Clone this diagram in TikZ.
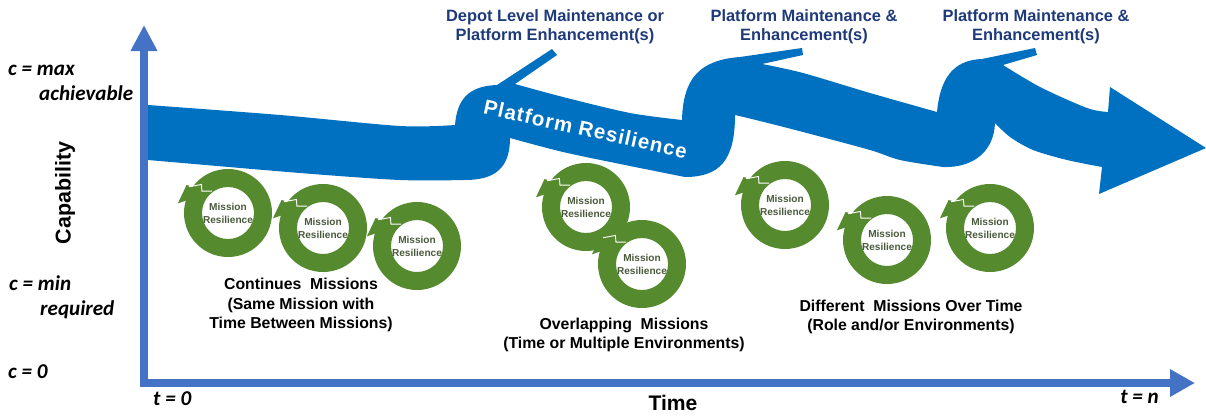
\documentclass[tikz,border=0pt]{standalone}
\usepackage{fontspec}
\setmainfont{Liberation Sans}
\newfontfamily\calfont{Carlito}
\usepackage{tikz}
\usetikzlibrary{arrows.meta}

\definecolor{axisblue}{HTML}{4472C4}
\definecolor{ribbonblue}{HTML}{0070C0}
\definecolor{labelnavy}{HTML}{1F3A7A}
\definecolor{ringgreen}{HTML}{568A2E}
\definecolor{missiontext}{HTML}{4A5A3C}

\tikzset{
  axisline/.style={line width=0.24cm, draw=axisblue, line join=miter},
  toplabel/.style={text=labelnavy, font=\bfseries\fontsize{14}{16.2}\selectfont, align=center, inner sep=0},
  caption/.style={font=\bfseries\fontsize{13.5}{16.6}\selectfont, align=center, inner sep=0},
  clabel/.style={font=\calfont\bfseries\itshape\fontsize{18}{20}\selectfont, inner sep=0, anchor=base west},
  ringlabel/.style={text=missiontext, font=\bfseries\fontsize{8.6}{11}\selectfont, align=center, inner sep=0}
}

\begin{document}
\begin{tikzpicture}[x=0.03cm, y=-0.03cm]
  \useasboundingbox (0,0) rectangle (1206,416);

  % axes
  \draw[axisline, {Triangle[length=0.78cm, width=0.75cm]}-{Triangle[length=0.75cm, width=0.78cm]}]
    (144,25) -- (144,383) -- (1195,383);

  % platform resilience ribbon
  \fill[ribbonblue]
    plot[smooth] coordinates {(148,105) (280,115) (400,126) (455,125)}
    .. controls (457,100) and (468,86) .. (497,85)
    -- (552,49) -- (557,55) -- (515,84)
    -- plot[smooth] coordinates {(515,84) (563,97) (630,113) (682,120)}
    .. controls (683,78) and (700,60) .. (740,57)
    -- (802,48) -- (803,55) -- (762,64)
    -- plot[smooth] coordinates {(762,64) (803,73) (870,93) (937,112)}
    .. controls (940,80) and (952,60) .. (982,59)
    -- (1035,48) -- (1037,55) -- (1003,65)
    -- plot[smooth] coordinates {(1003,65) (1040,87) (1087,108) (1108,112)}
    -- (1110,87) -- (1206,148) -- (1099,194) -- (1102,167)
    -- plot[smooth] coordinates {(1102,167) (1067,160) (1033,150) (1010,137) (995,123)}
    .. controls (994,150) and (975,168) .. (943,167)
    -- plot[smooth] coordinates {(943,167) (900,160) (870,150) (803,132) (760,121) (735,115)}
    .. controls (735,160) and (720,177) .. (685,177)
    -- plot[smooth] coordinates {(685,177) (630,166) (563,152) (510,138)}
    .. controls (510,168) and (495,180) .. (465,180)
    -- plot[smooth] coordinates {(465,180) (400,180) (300,173) (148,160)}
    -- cycle;
  \node[text=white, font=\bfseries\fontsize{17.5}{20}\selectfont\addfontfeature{LetterSpace=5}, rotate=-12.5, anchor=base, inner sep=0]
    (platres) at (584,136) {Platform Resilience};

  % mission rings
  \foreach \cx/\cy/\nm in {228/213/ringa, 323/228/ringb, 417/246/ringc, 586/207/ringd,
                           642/264/ringe, 785/205/ringf, 887/240/ringg, 990/228/ringh} {
    \begin{scope}[shift={(\cx,\cy)}]
      \fill[ringgreen, even odd rule] (0,0) circle[radius=44] (0,0) circle[radius=26];
      \fill[ringgreen] (-169:51) -- (-146:50) -- (-126:26) -- cycle;
      \draw[white, line width=0.8pt] (-146:47) -- (-133:39) -- (-140:34) -- (-126:27);
      \node[ringlabel] (\nm) at (0,0) {Mission\\Resilience};
    \end{scope}
  }

  % top labels
  \node[toplabel] (depot) at (555,27) {Depot Level Maintenance or\\Platform Enhancement(s)};
  \node[toplabel] (maint1) at (804,27) {Platform Maintenance \&\\Enhancement(s)};
  \node[toplabel] (maint2) at (1036,27) {Platform Maintenance \&\\Enhancement(s)};

  % captions
  \node[caption] (contmis) at (301,305) {Continues\ \ Missions\\(Same Mission with\\Time Between Missions)};
  \node[caption] (overmis) at (624,335) {Overlapping\ \ Missions\\(Time or Multiple Environments)};
  \node[caption] (diffmis) at (911,317) {Different\ \ Missions Over Time\\(Role and/or Environments)};

  % axis labels
  \node[clabel] (cmax) at (8,75) {c = max};
  \node[clabel] (cach) at (39,100) {achievable};
  \node[clabel] (cmin) at (9,290) {c = min};
  \node[clabel] (creq) at (40,315) {required};
  \node[clabel] (czero) at (8,378) {c = 0};
  \node[clabel] (tzero) at (153,405) {t = 0};
  \node[clabel] (tn) at (1120,403) {t = n};
  \node[font=\bfseries\fontsize{18}{20}\selectfont, anchor=base, inner sep=0] (time) at (673,410) {Time};
  \node[font=\bfseries\fontsize{18.3}{20}\selectfont, rotate=90, inner sep=0] (capab) at (65,193) {Capability};
\end{tikzpicture}
\end{document}
